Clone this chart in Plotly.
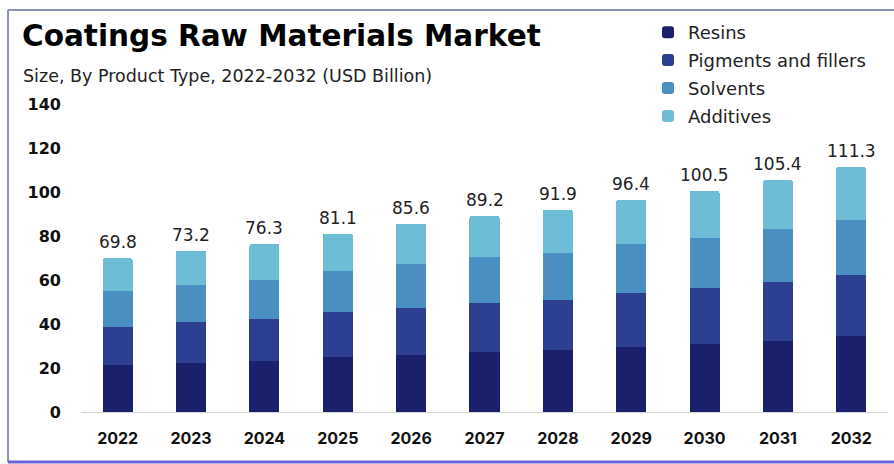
import plotly.graph_objects as go

# Market size by product type (USD Billion)
years = ["2022", "2023", "2024", "2025", "2026", "2027", "2028", "2029", "2030", "2031", "2032"]
resins = [21.3, 22.3, 23.4, 25.0, 26.1, 27.3, 28.4, 29.5, 31.0, 32.2, 34.4]
pigments_fillers = [17.5, 18.7, 19.0, 20.3, 21.3, 22.4, 22.7, 24.4, 25.4, 26.8, 27.9]
solvents = [16.0, 16.7, 17.4, 18.6, 19.7, 20.8, 21.4, 22.3, 22.9, 24.0, 25.1]
additives = [15.0, 15.5, 16.5, 17.2, 18.5, 18.7, 19.4, 20.2, 21.2, 22.4, 23.9]
totals = [69.8, 73.2, 76.3, 81.1, 85.6, 89.2, 91.9, 96.4, 100.5, 105.4, 111.3]
y_ticks = [0, 20, 40, 60, 80, 100, 120, 140]

series = [
    ("Resins", resins, "#1b206c"),
    ("Pigments and fillers", pigments_fillers, "#2d3f90"),
    ("Solvents", solvents, "#4a8fc1"),
    ("Additives", additives, "#6cbdd5"),
]

W, H = 894, 464
M = dict(l=81, r=6, t=93, b=52)
PW, PH = W - M["l"] - M["r"], H - M["t"] - M["b"]


def px_x(x):
    return (x - M["l"]) / PW


def px_y(y):
    return (H - M["b"] - y) / PH


SANS = "DejaVu Sans, sans-serif"
INTER = "Inter, DejaVu Sans, sans-serif"

fig = go.Figure()
for i, (name, vals, color) in enumerate(series):
    fig.add_trace(go.Bar(
        x=years, y=vals, name=name, legendgroup=f"g{i}",
        marker=dict(color=color, line=dict(width=0)),
        hoverinfo="y+name",
    ))

# Totals above each stack (placed by category index)
for idx, tot in enumerate(totals):
    fig.add_annotation(x=idx, y=tot, text=f"{tot}", showarrow=False,
                       yanchor="bottom", yshift=4,
                       font=dict(family=SANS, size=17, color="#222222"))

# Title and subtitle
fig.add_annotation(xref="paper", yref="paper", x=px_x(20), y=px_y(36),
                   xanchor="left", yanchor="middle", showarrow=False,
                   text="Coatings Raw Materials Market",
                   font=dict(family=SANS, size=29.5, color="#000000", weight=700))
fig.add_annotation(xref="paper", yref="paper", x=px_x(21), y=px_y(76),
                   xanchor="left", yanchor="middle", showarrow=False,
                   text="Size, By Product Type, 2022-2032 (USD Billion)",
                   font=dict(family=SANS, size=17.5, color="#222222"))

# Frame lines
frame = dict(xref="paper", yref="paper", type="line")
fig.add_shape(**frame, x0=px_x(8), x1=px_x(8), y0=px_y(10), y1=px_y(462),
              line=dict(color="#8a96b0", width=2))
fig.add_shape(**frame, x0=px_x(8), x1=px_x(894), y0=px_y(10), y1=px_y(10),
              line=dict(color="#8a96b0", width=2))
fig.add_shape(**frame, x0=px_x(8), x1=px_x(894), y0=px_y(462), y1=px_y(462),
              line=dict(color="#6b62d4", width=3))

fig.update_layout(
    width=W, height=H, margin=M,
    paper_bgcolor="white", plot_bgcolor="white",
    barmode="stack", bargap=0.59, barcornerradius=2,
    showlegend=True,
    legend=dict(x=px_x(648), y=px_y(14), xanchor="left", yanchor="top",
                traceorder="grouped", tracegroupgap=1.5, itemwidth=30,
                font=dict(family=SANS, size=18, color="#222222"),
                bgcolor="rgba(0,0,0,0)"),
    xaxis=dict(type="category", range=[-0.5, len(years) - 0.5],
               showline=True, linecolor="#d4d4d4", linewidth=1,
               ticks="", showgrid=False, ticklabelstandoff=12,
               tickfont=dict(family=INTER, size=16, color="#111111", weight=700)),
    yaxis=dict(range=[0, 145], tickvals=y_ticks, showgrid=False, zeroline=False,
               showline=False, ticks="", ticklabelstandoff=19,
               tickfont=dict(family=SANS, size=16, color="#111111", weight=700)),
)

fig.write_html("out.html")
